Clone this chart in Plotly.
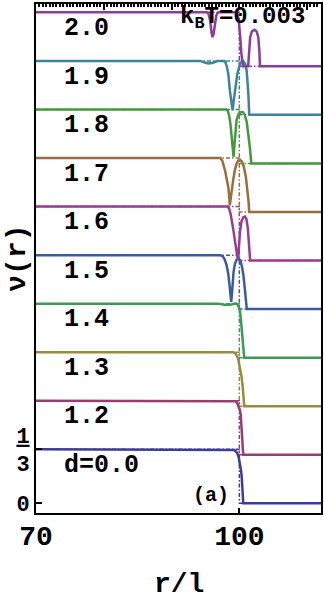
import plotly.graph_objects as go

# ---------------- data ----------------
d_labels = ["d=0.0", "1.2", "1.3", "1.4", "1.5", "1.6", "1.7", "1.8", "1.9", "2.0"]
colors = ["#3d3d99", "#993d71", "#998b3d", "#3d9956", "#3d5a99",
          "#993d8f", "#996d3d", "#44993d", "#3d8499", "#8b3d99"]
offset_step = 0.3
nu_bulk = 1 / 3
R_edge = 100.0
r_end = 112.05

r_d00 = [70, 98.8, 99.2, 99.5, 99.7, 99.9, 100.1, 100.25, 100.35, 100.45, 100.52, 100.58, r_end]
nu_d00 = [0.3333, 0.3333, 0.329, 0.32, 0.309, 0.285, 0.247, 0.205, 0.164, 0.11, 0.06, 0.0, 0.0]

r_d12 = [70, 99.0, 99.4, 99.65, 99.85, 100.05, 100.2, 100.3, 100.4, 100.5, 100.58, r_end]
nu_d12 = [0.3333, 0.3333, 0.33, 0.322, 0.306, 0.28, 0.25, 0.2, 0.13, 0.05, 0.0, 0.0]

r_d13 = [70, 99.1, 99.4, 99.65, 99.84, 100.1, 100.34, 100.5, 100.6, 100.68, 100.72, r_end]
nu_d13 = [0.3333, 0.3333, 0.328, 0.312, 0.288, 0.235, 0.18, 0.12, 0.07, 0.02, 0.0, 0.0]

r_d14 = [70, 97.0, 97.8, 98.6, 99.2, 99.55, 99.8, 100.0, 100.09, 100.2, 100.34, 100.46, 100.58, 100.67, 100.72, r_end]
nu_d14 = [0.3333, 0.3333, 0.326, 0.326, 0.333, 0.334, 0.325, 0.308, 0.293, 0.25, 0.19, 0.14, 0.088, 0.03, 0.0, 0.0]

r_d15 = [70, 97.2, 97.5, 97.8, 98.1, 98.36, 98.55, 98.7, 98.8, 98.9, 99.0, 99.15, 99.35, 99.6, 99.9,
         100.15, 100.4, 100.6, 100.83, 100.95, 101.1, r_end]
nu_d15 = [0.3333, 0.3333, 0.328, 0.31, 0.275, 0.22, 0.15, 0.08, 0.045, 0.09, 0.16, 0.23, 0.28, 0.305, 0.31,
          0.3, 0.26, 0.21, 0.117, 0.06, 0.0, 0.0]

r_d16 = [70, 98.3, 98.5, 98.7, 99.0, 99.2, 99.4, 99.6, 99.75, 99.9, 100.1, 100.34, 100.6, 100.83,
         101.05, 101.25, 101.4, 101.52, 101.6, r_end]
nu_d16 = [0.3333, 0.3333, 0.32, 0.29, 0.22, 0.16, 0.1, 0.04, 0.012, 0.06, 0.18, 0.245, 0.268, 0.272,
          0.255, 0.2, 0.13, 0.05, 0.0, 0.0]

r_d17 = [70, 97.2, 97.5, 97.7, 97.9, 98.15, 98.37, 98.5, 98.6, 98.75, 98.9, 99.1, 99.35, 99.6, 99.85,
         100.09, 100.4, 100.68, 100.95, 101.17, 101.35, 101.46, r_end]
nu_d17 = [0.3333, 0.3333, 0.315, 0.29, 0.255, 0.2, 0.154, 0.1, 0.041, 0.09, 0.15, 0.2, 0.26, 0.3, 0.318,
          0.323, 0.31, 0.277, 0.22, 0.154, 0.07, 0.0, 0.0]

r_d18 = [70, 98.1, 98.3, 98.5, 98.7, 98.9, 99.05, 99.15, 99.25, 99.4, 99.6, 99.9, 100.2, 100.5,
         100.8, 101.1, 101.35, 101.55, 101.7, 101.78, r_end]
nu_d18 = [0.3333, 0.3333, 0.325, 0.295, 0.24, 0.16, 0.09, 0.04, 0.1, 0.2, 0.27, 0.305, 0.317, 0.318,
          0.3, 0.255, 0.18, 0.1, 0.03, 0.0, 0.0]

r_d19 = [70, 94.2, 94.8, 95.4, 96.0, 96.7, 97.8, 98.0, 98.2, 98.37, 98.6, 98.87, 99.0, 99.15, 99.35,
         99.7, 100.1, 100.35, 100.58, 100.85, 101.08, 101.22, 101.33, 101.46, 101.5, r_end]
nu_d19 = [0.3333, 0.3333, 0.325, 0.318, 0.321, 0.333, 0.333, 0.32, 0.29, 0.254, 0.151, 0.069, 0.028, 0.08, 0.151,
          0.254, 0.316, 0.33, 0.332, 0.315, 0.275, 0.2, 0.131, 0.007, 0.0, 0.0]

r_d20 = [70, 95.2, 95.45, 95.7, 95.9, 96.04, 96.2, 96.4, 96.6, 96.8, 97.0, 99.5, 99.7, 99.9, 100.05,
         100.15, 100.3, 100.45, 100.55, 101.3, 101.45, 101.6, 101.85, 102.2, 102.55, 102.8, 102.95, 103.05, r_end]
nu_d20 = [0.3333, 0.3333, 0.325, 0.28, 0.21, 0.18, 0.2, 0.27, 0.314, 0.33, 0.3333, 0.3333, 0.325, 0.29, 0.23,
          0.17, 0.08, 0.02, 0.0, 0.0, 0.1, 0.18, 0.215, 0.226, 0.215, 0.18, 0.1, 0.0, 0.0]

r_curves = [r_d00, r_d12, r_d13, r_d14, r_d15, r_d16, r_d17, r_d18, r_d19, r_d20]
nu_curves = [nu_d00, nu_d12, nu_d13, nu_d14, nu_d15, nu_d16, nu_d17, nu_d18, nu_d19, nu_d20]

x_tickvals = [70, 100]
x_ticktext = ["70", "100"]
y_tickvals = [0, 1 / 3]
y_ticktext = ["0", "<u>1</u><br>3"]
x_range = [70, r_end]
y_range = [-0.06, 3.085]

FONT = "Liberation Mono, Courier New, monospace"

fig = go.Figure()

# reference step profiles (dash-dot) and density curves
for k in range(len(d_labels)):
    off = k * offset_step
    fig.add_trace(go.Scatter(
        x=[x_range[0], R_edge, R_edge, r_end],
        y=[off + nu_bulk, off + nu_bulk, off, off],
        mode="lines", line=dict(color=colors[k], width=1.5, dash="4px,2px,1.5px,2px"),
        hoverinfo="skip", showlegend=False))
for k in range(len(d_labels)):
    off = k * offset_step
    fig.add_trace(go.Scatter(
        x=r_curves[k], y=[v + off for v in nu_curves[k]],
        mode="lines", line=dict(color=colors[k], width=2.5),
        name=d_labels[k], showlegend=False))

# invisible trace to host the top axis
fig.add_trace(go.Scatter(x=x_range, y=[0, 0], xaxis="x2", yaxis="y",
                         mode="lines", line=dict(width=0), opacity=0,
                         showlegend=False, hoverinfo="skip"))

# curve labels
for k, lab in enumerate(d_labels):
    off = k * offset_step
    fig.add_annotation(x=73.9, y=off + nu_bulk - 0.1, text=lab, showarrow=False,
                       xanchor="left", yanchor="middle",
                       font=dict(family=FONT, size=25, color="black", weight="bold"))

fig.add_annotation(x=91.0, y=3.0, text="k<sub>B</sub>T=0.003", showarrow=False,
                   xanchor="left", yanchor="middle",
                   font=dict(family=FONT, size=24, color="black", weight="bold"))
fig.add_annotation(x=95.8, y=0.05, text="(a)", showarrow=False,
                   xanchor="center", yanchor="middle",
                   font=dict(family=FONT, size=20, color="black", weight="bold"))

axis_font = dict(family=FONT, size=28, color="black", weight="bold")

# axis titles
fig.add_annotation(xref="paper", yref="paper", x=0.5, y=-0.1405, text="r/l",
                   showarrow=False, xanchor="center", yanchor="middle", font=axis_font)
fig.add_annotation(xref="paper", yref="paper", x=-0.066, y=0.5, text="ν(r)",
                   showarrow=False, xanchor="center", yanchor="middle", textangle=-90,
                   font=axis_font)

fig.update_layout(
    width=324, height=600,
    margin=dict(l=36, r=3, t=4, b=87, autoexpand=False),
    paper_bgcolor="white", plot_bgcolor="white",
    showlegend=False,
    xaxis=dict(range=x_range, tickvals=x_tickvals, ticktext=x_ticktext,
               ticks="inside", ticklen=5, tickwidth=2, tickcolor="black",
               ticklabelstandoff=-4,
               showline=True, linewidth=2, linecolor="black", mirror=True,
               showgrid=False, zeroline=False, automargin=False,
               tickfont=axis_font),
    xaxis2=dict(range=x_range, overlaying="x", side="top", automargin=False,
                tickvals=[70, 80, 90, 100, 110], ticks="inside", ticklen=6, tickwidth=1.5,
                tickcolor="black", showticklabels=False, showgrid=False, zeroline=False,
                showline=False,
                minor=dict(dtick=0.5, tick0=70, ticks="inside", ticklen=3, tickwidth=2,
                           tickcolor="black", showgrid=False)),
    yaxis=dict(range=y_range, tickvals=y_tickvals, ticktext=y_ticktext,
               ticks="inside", ticklen=6, tickwidth=2, tickcolor="black",
               showline=True, linewidth=2, linecolor="black", mirror=True,
               showgrid=False, zeroline=False, automargin=False,
               tickfont=dict(family=FONT, size=22, color="black", weight="bold")),
)

fig.write_html("out.html", config={"displayModeBar": False},
               post_script="document.body.style.margin='0';document.body.style.overflow='hidden';")
